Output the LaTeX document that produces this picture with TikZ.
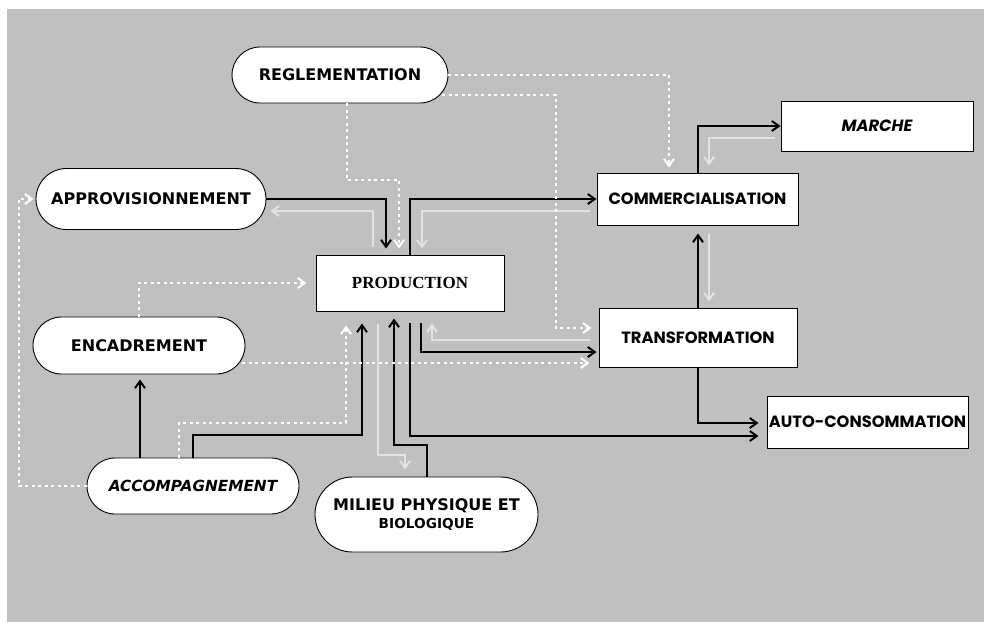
\documentclass[tikz,border=0pt]{standalone}
\usepackage{fontspec}
\setmainfont{DejaVu Sans}
\newfontfamily\gothic{Poppins}
\newfontfamily\serifb{Liberation Serif}
\usetikzlibrary{arrows.meta,shapes.misc,calc}
\definecolor{bgray}{HTML}{C0C0C0}
\definecolor{lgray}{HTML}{E2E2E2}
\begin{document}
\begin{tikzpicture}[x=1pt,y=-1pt,
  pill/.style={rounded rectangle, draw=black, fill=white, line width=0.9pt, inner sep=0pt,
    align=center, font=\bfseries\fontsize{16}{19}\selectfont},
  box/.style={rectangle, draw=black, fill=white, line width=1pt, inner sep=0pt,
    font=\gothic\bfseries\fontsize{16.3}{19}\selectfont},
  tip/.style={-{Straight Barb[length=7pt,width=10pt]}},
  blk/.style={tip, draw=black, line width=2pt},
  gry/.style={tip, draw=lgray, line width=2pt},
  dot/.style={tip, draw=white, line width=2pt, dash pattern=on 3pt off 3.5pt},
]
\useasboundingbox (0,0) rectangle (984,622);
\fill[white] (0,0) rectangle (984,622);
\fill[bgray] (7,9) rectangle (984,622);

% nodes
\node[pill, minimum width=216pt, minimum height=56pt] (regl) at (340,75) {REGLEMENTATION};
\node[pill, minimum width=230pt, minimum height=61pt] (approv) at (151,199) {APPROVISIONNEMENT};
\node[box, minimum width=192pt, minimum height=50pt] (marche) at (877,126) {\itshape MARCHE};
\node[box, minimum width=201pt, minimum height=52pt] (comm) at (697.5,199) {COMMERCIALISATION};
\node[box, minimum width=188pt, minimum height=56pt, font=\serifb\bfseries\fontsize{17}{20}\selectfont] (prod) at (410,283) {PRODUCTION};
\node[pill, minimum width=212pt, minimum height=57pt] (enc) at (139,345.5) {ENCADREMENT};
\node[box, minimum width=198pt, minimum height=59pt] (trans) at (698,337.5) {TRANSFORMATION};
\node[box, minimum width=201pt, minimum height=52pt] (auto) at (867.5,422) {AUTO-CONSOMMATION};
\node[pill, minimum width=212pt, minimum height=56pt, font=\bfseries\itshape\fontsize{15.3}{18}\selectfont] (accomp) at (193,486) {ACCOMPAGNEMENT};
\node[pill, minimum width=223pt, minimum height=75pt] (milieu) at (426.5,514.5)
  {MILIEU PHYSIQUE ET\\[-1pt]{\fontsize{13.7}{16}\selectfont BIOLOGIQUE}};

% light gray connectors
\draw[gry] ($(prod.north)+(-37,-8)$) |- ($(approv.east)+(4,12)$);
\draw[gry] ($(comm.west)+(-7,12)$) -| ($(prod.north)+(12,-6)$);
\draw[gry] ($(trans.west)+(-9,2.5)$) -| ($(prod.south)+(22,12)$);
\draw[gry] ($(prod.south)+(-32,12)$) |- ($(milieu.north)+(-21.5,-22)$) -- ($(milieu.north)+(-21.5,-7)$);
\draw[gry] ($(comm.south)+(11.5,8)$) -- ($(trans.north)+(11,-6)$);
\draw[gry] ($(marche.west)+(-6,12)$) -| ($(comm.north)+(11.5,-7)$);

% black connectors
\draw[blk] (approv.east) -| ($(prod.north)+(-24,-6)$);
\draw[blk] (prod.north) |- (comm.west);
\draw[blk] ($(prod.south)+(11,11)$) |- ($(trans.west)+(-2,14.5)$);
\draw[blk] ($(accomp.north)+(-53,0)$) -- ($(enc.south)+(1,5)$);
\draw[blk] (accomp.north) -- ++(0,-23) -| ($(prod.south)+(-48,12)$);
\draw[blk] (milieu.north) -- ++(0,-32) -| ($(prod.south)+(-16,7)$);
\draw[blk] ($(prod.south)+(0,11)$) |- ($(auto.west)+(-8,14)$);
\draw[blk] (trans.south) |- ($(auto.west)+(-8,1)$);
\draw[blk] (trans.north) -- ($(comm.south)+(0.5,8)$);
\draw[blk] (comm.north) |- (marche.west);

% white dotted connectors
\draw[dot] ($(regl.south)+(7,0)$) -- ++(0,77) -| ($(prod.north)+(-11,-6)$);
\draw[dot] (regl.east) -| ($(comm.north)+(-28.5,-5)$);
\draw[dot] ($(regl.east)+(-6,20)$) -| ($(trans.west)+(-43,-9.5)$) -- ($(trans.west)+(-7,-9.5)$);
\draw[dot] ($(enc.east)+(-3,17.5)$) -- ($(trans.west)+(-9,25.5)$);
\draw[dot] (enc.north) |- ($(prod.west)+(-9,0)$);
\draw[dot] ($(accomp.north)+(-14,0)$) -- ++(0,-35) -| ($(prod.south)+(-64,14)$);
\draw[dot] (accomp.west) -- ++(-68,0) |- ($(approv.west)+(-2,0)$);
\end{tikzpicture}
\end{document}
